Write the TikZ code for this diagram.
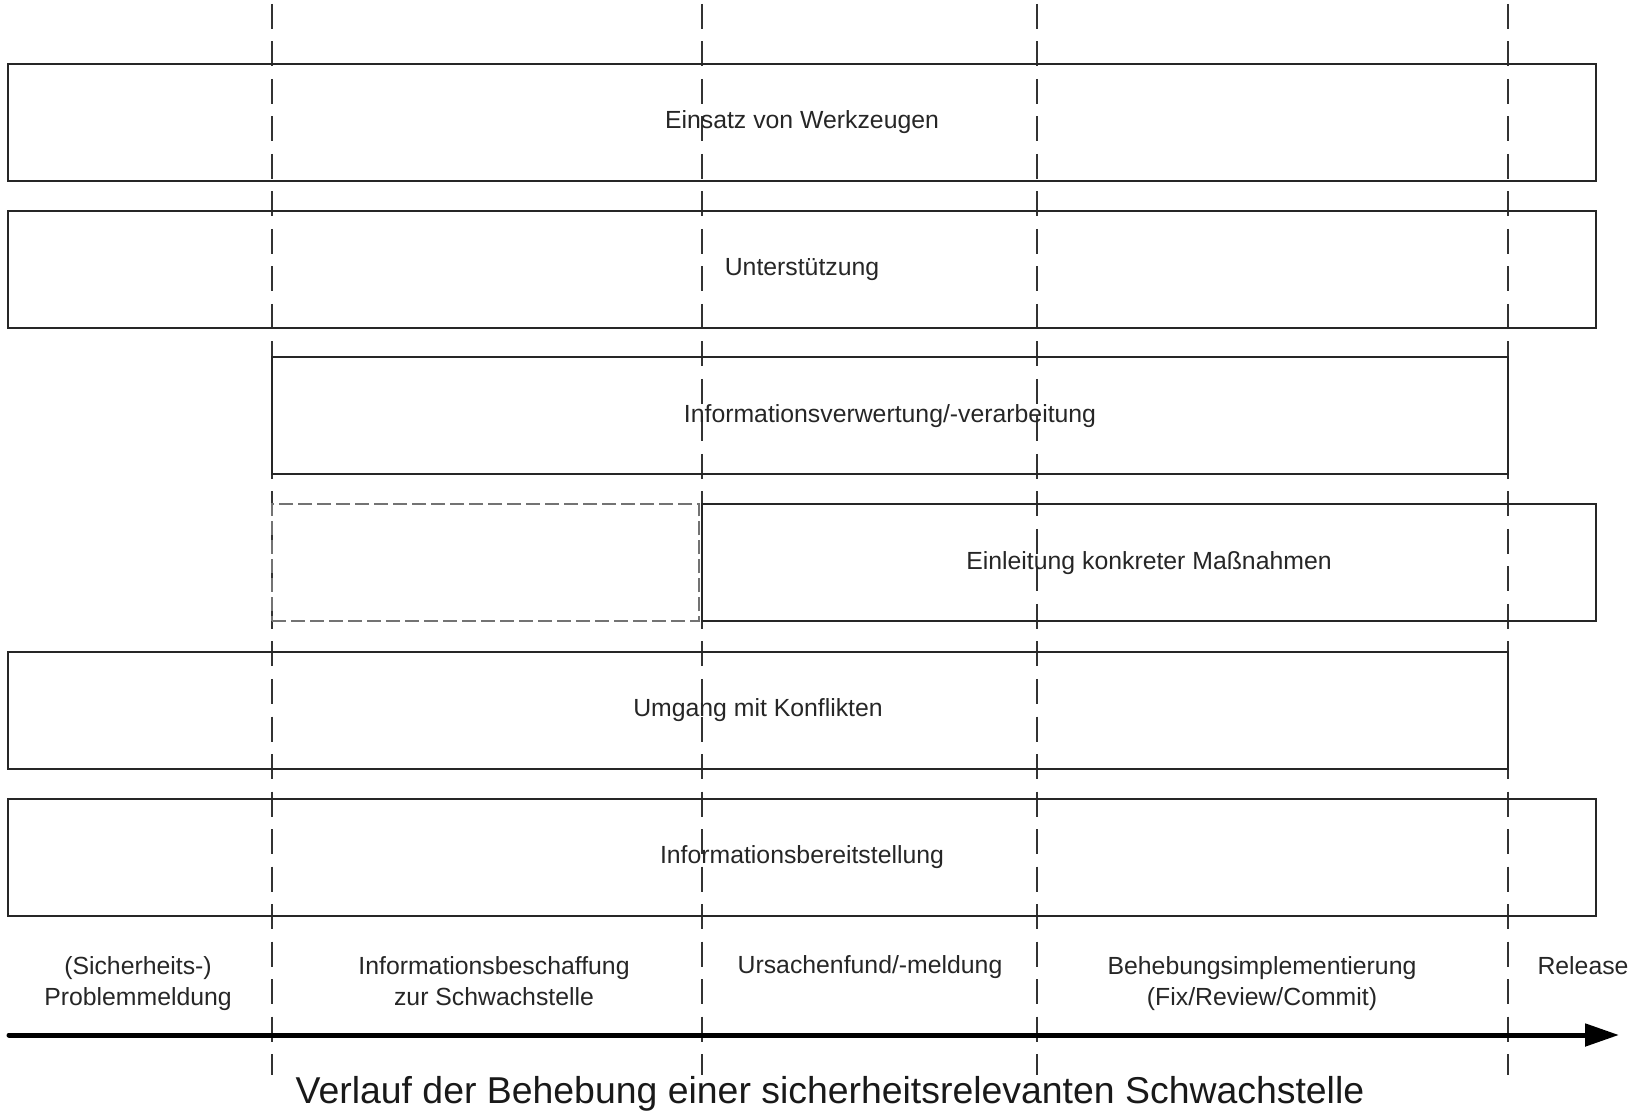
\documentclass[tikz,border=0pt]{standalone}
\usepackage{fontspec}
\setmainfont{Liberation Sans}
\usetikzlibrary{arrows.meta}
\begin{document}
\begin{tikzpicture}[x=0.5pt,y=-0.5pt,
  lane/.style={draw=black!85, line width=1pt, rectangle, inner sep=0pt,
    minimum height=58.5pt, font=\fontsize{12.4}{15}\selectfont, text=black!85},
  ghostlane/.style={draw=black!55, line width=1pt, dash pattern=on 7pt off 2.5pt,
    rectangle, inner sep=0pt, minimum height=58.5pt},
  phase/.style={align=center, inner sep=0pt, font=\fontsize{12.4}{15.5}\selectfont, text=black!85},
  divider/.style={draw=black!80, line width=0.8pt, dash pattern=on 12.5pt off 6.25pt},
  timeline/.style={draw=black, line width=2.5pt, line cap=round,
    -{Triangle[length=17pt, width=11pt]}},
]
\useasboundingbox (0,0) rectangle (1648,1111);

% phase dividers
\foreach \n/\x in {d1/272, d2/702, d3/1037, d4/1508} {
  \coordinate (\n top) at (\x,4);
  \coordinate (\n bot) at (\x,1075);
  \draw[divider] (\n top) -- (\n bot);
}

% activity lanes
\node[lane, minimum width=794pt] (tools) at (802,122.5) {Einsatz von Werkzeugen};
\node[lane, minimum width=794pt] (support) at (802,269.5) {Unterstützung};
\node[lane, minimum width=618pt] (process) at (890,416) {Informationsverwertung/-verarbeitung};
\node[ghostlane, minimum width=213.5pt] (early) at (485.5,563) {};
\node[lane, minimum width=447pt] (measures) at (1149,563) {Einleitung konkreter Maßnahmen};
\node[lane, minimum width=750pt] (conflicts) at (758,710.5) {Umgang mit Konflikten};
\node[lane, minimum width=794pt] (provide) at (802,857.5) {Informationsbereitstellung};

% phase labels
\node[phase] (p1) at (138,984) {(Sicherheits-)\\Problemmeldung};
\node[phase] (p2) at (494,981) {Informationsbeschaffung\\zur Schwachstelle};
\node[phase] (p3) at (870,967) {Ursachenfund/-meldung};
\node[phase] (p4) at (1262,984) {Behebungsimplementierung\\(Fix/Review/Commit)};
\node[phase] (p5) at (1583,966) {Release};

% time axis
\coordinate (tstart) at (9,1035);
\coordinate (tend) at (1619,1035);
\draw[timeline] (tstart) -- (tend);

\node[font=\fontsize{18.7}{22}\selectfont, text=black!90, inner sep=0pt] (title) at (830,1094)
  {Verlauf der Behebung einer sicherheitsrelevanten Schwachstelle};
\end{tikzpicture}
\end{document}
